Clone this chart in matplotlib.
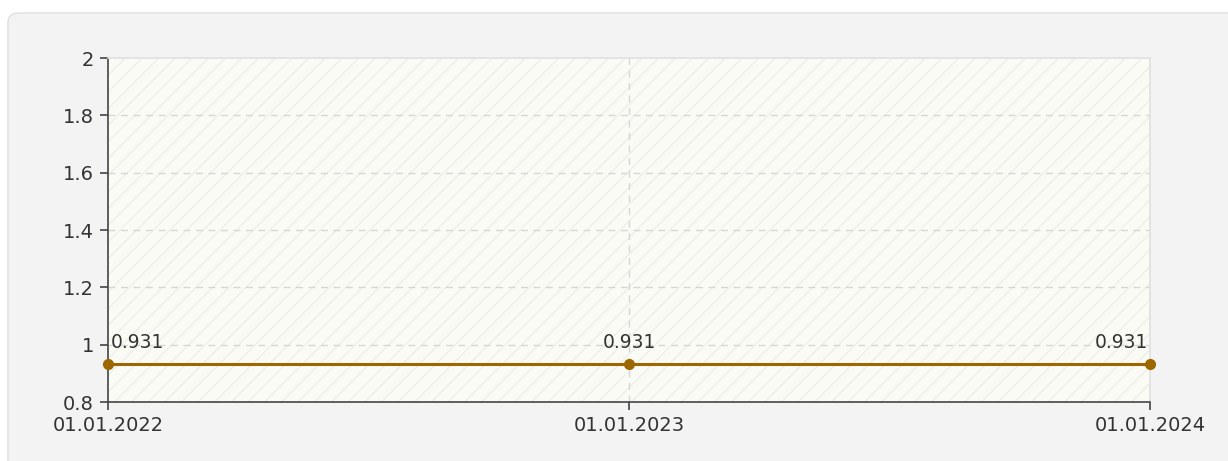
import numpy as np
import matplotlib.pyplot as plt
import matplotlib.dates as mdates
from matplotlib.patches import FancyBboxPatch, Rectangle
from datetime import datetime

# dados
datas = [datetime(2022, 1, 1), datetime(2023, 1, 1), datetime(2024, 1, 1)]
valores = [0.931, 0.931, 0.931]
rotulos = ['0.931', '0.931', '0.931']
y_ticks = [0.8, 1, 1.2, 1.4, 1.6, 1.8, 2]
y_labels = ['0.8', '1', '1.2', '1.4', '1.6', '1.8', '2']

W, H = 1228, 461
fig = plt.figure(figsize=(W / 100, H / 100), dpi=100)
fig.patch.set_facecolor('white')

# painel de fundo cinza com canto arredondado (em polegadas)
painel = FancyBboxPatch((0.08, -0.5), 13.0, (H - 13) / 100 + 0.5,
                        boxstyle='round,pad=0,rounding_size=0.1',
                        transform=fig.dpi_scale_trans, facecolor='#f3f3f3',
                        edgecolor='#e3e3e3', lw=1.2, zorder=-10)
fig.patches.append(painel)

topo, base = 58, 402
ax = fig.add_axes([108 / W, 1 - base / H, (1150 - 108) / W, (base - topo) / H])
ax.set_zorder(1)
ax.set_facecolor('#fbfbf6')

x0, x1 = mdates.date2num(datas[0]), mdates.date2num(datas[-1])
ax.set_xlim(x0, x1)
ax.set_ylim(0.8, 2)

# hachura diagonal do fundo
plt.rcParams['hatch.linewidth'] = 1.0
ax.add_patch(Rectangle((0, 0), 1, 1, transform=ax.transAxes, facecolor='none',
                       edgecolor='#efefea', lw=0, hatch='//', zorder=0))

# grade
for yt in y_ticks[1:-1]:
    ax.axhline(yt, color='#d6d6d6', lw=1, ls=(0, (5, 4)), zorder=1)
ax.axvline(mdates.date2num(datas[1]), color='#d6d6d6', lw=1, ls=(0, (5, 4)), zorder=1)

ax.plot(datas, valores, color='#9c6600', lw=2.2, marker='o', markersize=7,
        clip_on=False, zorder=5)

aligns = ['left', 'center', 'right']
for d, v, r, a in zip(datas, valores, rotulos, aligns):
    dx = 3 if a == 'left' else (-2 if a == 'right' else 0)
    ax.annotate(r, (mdates.date2num(d), v), xytext=(dx, 16), textcoords='offset pixels',
                ha=a, va='baseline', fontsize=13.5, color='#333333', zorder=6)

ax.set_yticks(y_ticks)
ax.set_yticklabels(y_labels)
ax.set_xticks([mdates.date2num(d) for d in datas])
ax.set_xticklabels([d.strftime('%d.%m.%Y') for d in datas])

ax.tick_params(axis='both', direction='out', length=6, width=1.2, color='#444444',
               labelsize=14, labelcolor='#333333', pad=4)
for s in ['left', 'bottom']:
    ax.spines[s].set_color('#444444')
    ax.spines[s].set_linewidth(1.2)
for s in ['top', 'right']:
    ax.spines[s].set_color('#e0e0e0')
    ax.spines[s].set_linewidth(1.2)

fig.savefig('out.png', dpi=100)
